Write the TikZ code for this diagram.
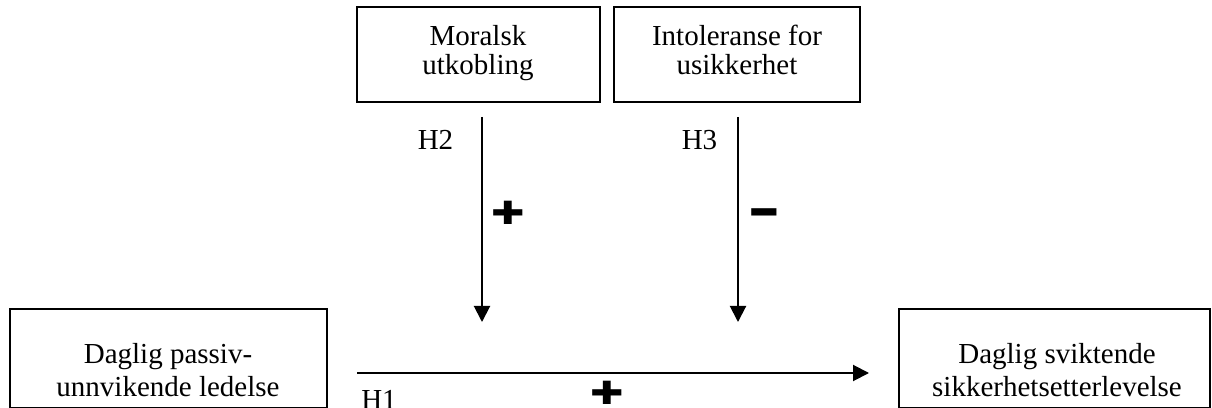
\documentclass[tikz,border=0pt]{standalone}
\usepackage{fontspec}
\usepackage{graphicx}
\setmainfont{Liberation Serif}
\newfontfamily\signfont{DejaVu Sans}
\usetikzlibrary{arrows.meta}
\tikzset{
  box/.style={draw, line width=2pt, inner sep=0pt},
  txt/.style={inner sep=0pt, anchor=base, font=\fontsize{29}{29}\selectfont},
  conn/.style={line width=2pt, -{Triangle[width=16pt,length=16pt]}},
  sign/.style={inner sep=0pt, font=\signfont\fontsize{40}{40}\selectfont},
  minussign/.style={inner sep=0pt, font=\signfont\fontsize{33}{33}\selectfont}
}
\begin{document}
\begin{tikzpicture}[x=1pt,y=1pt]
\useasboundingbox (0,0) rectangle (1212,407);
\clip (0,0) rectangle (1212,407);
% boxes
\node[box, minimum width=243pt, minimum height=95pt] (moral) at (478.5,352.5) {};
\node[box, minimum width=246pt, minimum height=95pt] (intol) at (737,352.5) {};
\node[box, minimum width=317pt, minimum height=98.5pt] (passiv) at (168.5,48.75) {};
\node[box, minimum width=311pt, minimum height=98.5pt] (svikt) at (1054.5,48.75) {};
% box texts
\node[txt] (moralA) at (478,361) {Moralsk};
\node[txt] (moralB) at (478,332) {utkobling};
\node[txt] (intolA) at (737,361) {Intoleranse for};
\node[txt] (intolB) at (737,332) {usikkerhet};
\node[txt] (passivA) at (168,44) {Daglig passiv-};
\node[txt] (passivB) at (168,11) {unnvikende ledelse};
\node[txt] (sviktA) at (1057,44) {Daglig sviktende};
\node[txt] (sviktB) at (1057,11) {sikkerhetsetterlevelse};
% connectors
\coordinate (h2s) at (482,290);
\coordinate (h2e) at (482,85);
\coordinate (h3s) at (738,290);
\coordinate (h3e) at (738,85);
\coordinate (h1s) at (357,34);
\coordinate (h1e) at (869,34);
\draw[conn] (h2s) -- (h2e);
\draw[conn] (h3s) -- (h3e);
\draw[conn] (h1s) -- (h1e);
% labels
\node[txt] (lh2) at (435.5,257) {H2};
\node[txt] (lh3) at (699.5,257) {H3};
\node[txt] (lh1) at (379,-2) {H1};
\node[sign] (p2) at (508,194) {\scalebox{1}[0.8]{✚}};
\node[minussign] (m3) at (764,194) {\scalebox{1}[0.6]{▬}};
\node[sign] (p1) at (607.5,14.5) {\scalebox{1}[0.8]{✚}};
\end{tikzpicture}
\end{document}
